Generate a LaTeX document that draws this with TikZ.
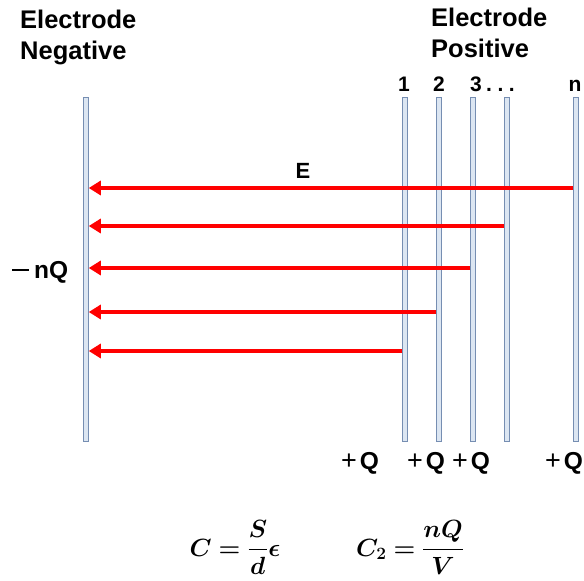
\documentclass[tikz,border=0pt]{standalone}
\usepackage[no-math]{fontspec}
\usepackage{amsmath, bm}
\setmainfont{Liberation Sans}
\usetikzlibrary{arrows.meta}
\definecolor{platefill}{RGB}{220,230,242}
\definecolor{plateedge}{RGB}{118,142,178}
\definecolor{fieldred}{RGB}{255,0,0}
\newcommand{\thinplus}{{\fontsize{27}{27}\selectfont\mdseries +}}
\newcommand{\longminus}{\rule[0.28em]{17pt}{1.8pt}}
\begin{document}
\begin{tikzpicture}[x=1pt, y=-1pt,
			plate/.style={draw=plateedge, fill=platefill, line width=1.3pt, minimum width=5.5pt, minimum height=344pt, inner sep=0pt, outer sep=0pt},
			field/.style={draw=fieldred, line width=4pt, -{Triangle[length=12pt, width=14pt]}},
			title/.style={font=\fontsize{25.5}{31}\selectfont\bfseries, align=left, inner sep=0pt, anchor=north west},
			charge/.style={font=\fontsize{24.5}{26}\selectfont\bfseries, inner sep=0pt, anchor=base},
			number/.style={font=\fontsize{21}{22}\selectfont\bfseries, inner sep=0pt, anchor=base},
			formula/.style={font=\fontsize{24.5}{28}\selectfont, inner sep=0pt, anchor=base}]
			\useasboundingbox (0,0) rectangle (584,581);
			% Elektroden
			\node[plate] (neg) at (86,269.5) {};
			\foreach \name/\x in {p1/405,p2/439,p3/473,p4/507,pn/576}
				\node[plate] (\name) at (\x,269.5) {};
			% Beschriftung
			\node[title] (negtitle) at (20,10) {Electrode\\Negative};
			\node[title] (postitle) at (431,8) {Electrode\\Positive};
			\foreach \name/\x/\label in {n1/404/1,n2/439/2,n3/476/3,nn/575/n}
				\node[number] (\name) at (\x,91) {\label};
			\node[number, anchor=base west] (ndots) at (486,91) {.\hspace{5.5pt}.\hspace{5.5pt}.};
			% Feldlinien
			\foreach \pl/\y in {pn/188,p4/226,p3/268,p2/312,p1/351}
				\draw[field] (\pl.west |- {(0,\y)}) -- (neg.east |- {(0,\y)});
			\node[font=\fontsize{22}{24}\selectfont\bfseries, inner sep=0pt, anchor=base] (E) at (303,178) {E};
			% Ladungen
			\node[charge, anchor=base west] (negq) at (12,278) {\longminus\hspace{5pt}nQ};
			\foreach \name/\x in {q1/360,q2/426,q3/471,qn/564}
				\node[charge] (\name) at (\x,469) {\thinplus\hspace{3pt}Q};
			% Formeln
			\node[formula] (cform) at (235,556) {$\displaystyle\boldsymbol{C=\frac{S}{d}\epsilon}$};
			\node[formula] (c2form) at (410,556) {$\displaystyle\boldsymbol{C_2=\frac{nQ}{V}}$};
		\end{tikzpicture}
\end{document}
